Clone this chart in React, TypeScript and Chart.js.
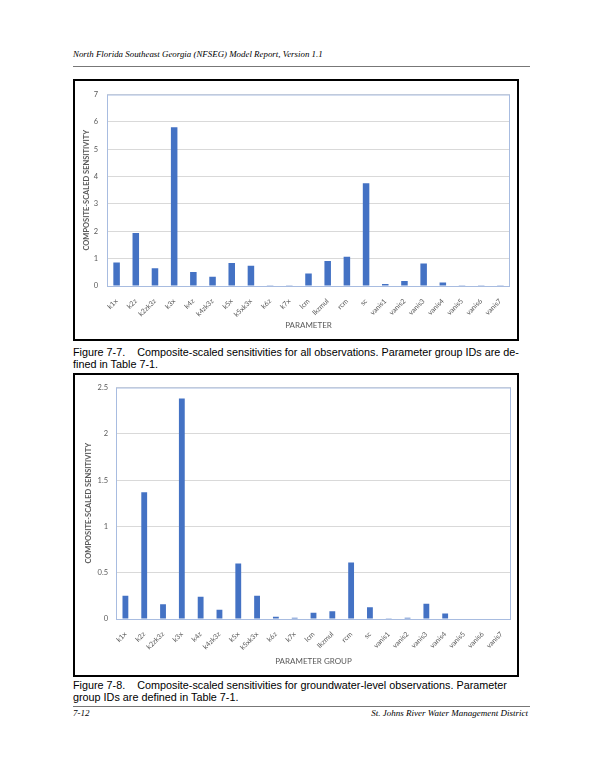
import React, { useEffect, useRef } from "react";
import { Chart, registerables } from "chart.js";

Chart.register(...registerables);

const parameterGroups = [
  "k1x", "k2z", "k2zk3z", "k3x", "k4z", "k4zk3z", "k5x", "k5xk3x", "k6z", "k7x",
  "lcm", "lkzmul", "rcm", "sc", "vanis1", "vanis2", "vanis3", "vanis4", "vanis5", "vanis6", "vanis7",
];
const cssAllObservations = [
  0.86, 1.94, 0.65, 5.8, 0.51, 0.34, 0.84, 0.74, 0.03, 0.03,
  0.46, 0.91, 1.07, 3.76, 0.07, 0.18, 0.82, 0.13, 0.03, 0.03, 0.03,
];
const cssGroundwater = [
  0.25, 1.37, 0.16, 2.38, 0.24, 0.1, 0.6, 0.25, 0.025, 0.014,
  0.067, 0.085, 0.61, 0.127, 0.007, 0.014, 0.165, 0.06, 0.005, 0.005, 0.005,
];
const yTicksAll = [0, 1, 2, 3, 4, 5, 6, 7];
const yTicksGw = [0, 0.5, 1, 1.5, 2, 2.5];

const plotBorder = {
  id: "plotBorder",
  beforeDatasetsDraw(chart: any) {
    const { ctx, chartArea: a } = chart;
    ctx.save();
    ctx.strokeStyle = "#A8BCE0";
    ctx.lineWidth = 1;
    ctx.strokeRect(a.left + 0.5, a.top + 0.5, a.right - a.left - 1, a.bottom - a.top);
    ctx.restore();
  },
};

type BarProps = {
  values: number[];
  ticks: number[];
  xTitle: string;
  width: number;
  height: number;
  yWidth: number;
  xHeight: number;
  padTop: number;
  padRight: number;
  yTitlePad: number;
  yTickPad: number;
  barPct: number;
};

function BarChart(p: BarProps) {
  const ref = useRef<HTMLCanvasElement | null>(null);
  useEffect(() => {
    if (!ref.current) return;
    const chart = new Chart(ref.current, {
      type: "bar",
      data: {
        labels: parameterGroups,
        datasets: [
          {
            data: p.values,
            backgroundColor: "#4472C4",
            barPercentage: p.barPct,
            categoryPercentage: 1,
          },
        ],
      },
      options: {
        animation: false,
        responsive: false,
        maintainAspectRatio: false,
        layout: { padding: { top: p.padTop, right: p.padRight, left: 0, bottom: 0 } },
        plugins: { legend: { display: false }, tooltip: { enabled: false } },
        scales: {
          x: {
            grid: { display: false },
            border: { display: false },
            ticks: {
              color: "#595959",
              font: { family: "Lato", size: 7 },
              minRotation: 45,
              maxRotation: 45,
              padding: 3,
              autoSkip: false,
            },
            title: {
              display: true,
              text: p.xTitle,
              color: "#595959",
              font: { family: "Lato", size: 8 },
              padding: { top: 0, bottom: 9 },
            },
            afterFit: (s: any) => {
              s.height = p.xHeight;
            },
          },
          y: {
            min: p.ticks[0],
            max: p.ticks[p.ticks.length - 1],
            afterBuildTicks: (s: any) => {
              s.ticks = p.ticks.map((v) => ({ value: v }));
            },
            grid: { color: "#D9D9D9", drawTicks: false, lineWidth: 1 },
            border: { display: false },
            ticks: {
              color: "#595959",
              font: { family: "Lato", size: 7.5 },
              padding: p.yTickPad,
              callback: (v: any) => String(v),
            },
            title: {
              display: true,
              text: "COMPOSITE-SCALED SENSITIVITY",
              color: "#595959",
              font: { family: "Lato", size: 7.5, weight: "bold" },
              padding: { top: p.yTitlePad, bottom: 0 },
            },
            afterFit: (s: any) => {
              s.width = p.yWidth;
            },
          },
        },
      },
      plugins: [plotBorder],
    } as any);
    return () => chart.destroy();
  }, []);
  return <canvas ref={ref} width={p.width} height={p.height} style={{ display: "block", width: p.width, height: p.height }} />;
}

const serif = "'Liberation Serif', 'Times New Roman', serif";
const sans = "'Liberation Sans', Arial, sans-serif";

export default function App() {
  const abs = (o: React.CSSProperties): React.CSSProperties => ({ position: "absolute", ...o });
  return (
    <div style={abs({ left: 0, top: 0, width: 600, height: 777, background: "#fff", overflow: "hidden" })}>
      <div style={abs({ left: 73, top: 49, fontFamily: serif, fontStyle: "italic", fontSize: 8.9, lineHeight: "11px", whiteSpace: "nowrap", color: "#000" })}>
        North Florida Southeast Georgia (NFSEG) Model Report, Version 1.1
      </div>
      <div style={abs({ left: 73, top: 66, width: 457, height: 1, background: "#777" })} />

      <div style={abs({ left: 73, top: 79, width: 442, height: 258, border: "2px solid #000" })}>
        <BarChart
          values={cssAllObservations}
          ticks={yTicksAll}
          xTitle="PARAMETER"
          width={442}
          height={258}
          yWidth={32}
          xHeight={53}
          padTop={7}
          padRight={7}
          yTitlePad={7}
          yTickPad={9}
          barPct={0.34}
        />
      </div>

      <div style={abs({ left: 73, top: 346, width: 450, fontFamily: sans, fontSize: 10.8, lineHeight: "12px", whiteSpace: "pre", color: "#000" })}>
        {"Figure 7-7.    Composite-scaled sensitivities for all observations. Parameter group IDs are de-\nfined in Table 7-1."}
      </div>

      <div style={abs({ left: 73, top: 373, width: 442, height: 300, border: "2px solid #000" })}>
        <BarChart
          values={cssGroundwater}
          ticks={yTicksGw}
          xTitle="PARAMETER GROUP"
          width={442}
          height={300}
          yWidth={41}
          xHeight={56}
          padTop={7}
          padRight={6}
          yTitlePad={9}
          yTickPad={8}
          barPct={0.31}
        />
      </div>

      <div style={abs({ left: 73, top: 679, width: 450, fontFamily: sans, fontSize: 10.8, lineHeight: "12px", whiteSpace: "pre", color: "#000" })}>
        {"Figure 7-8.    Composite-scaled sensitivities for groundwater-level observations. Parameter\ngroup IDs are defined in Table 7-1."}
      </div>

      <div style={abs({ left: 73, top: 706, width: 457, height: 1, background: "#777" })} />
      <div style={abs({ left: 73, top: 708, fontFamily: serif, fontStyle: "italic", fontSize: 9, lineHeight: "11px", color: "#000" })}>7-12</div>
      <div style={abs({ left: 300, top: 708, width: 228, textAlign: "right", fontFamily: serif, fontStyle: "italic", fontSize: 9, lineHeight: "11px", color: "#000" })}>
        St. Johns River Water Management District
      </div>
    </div>
  );
}
